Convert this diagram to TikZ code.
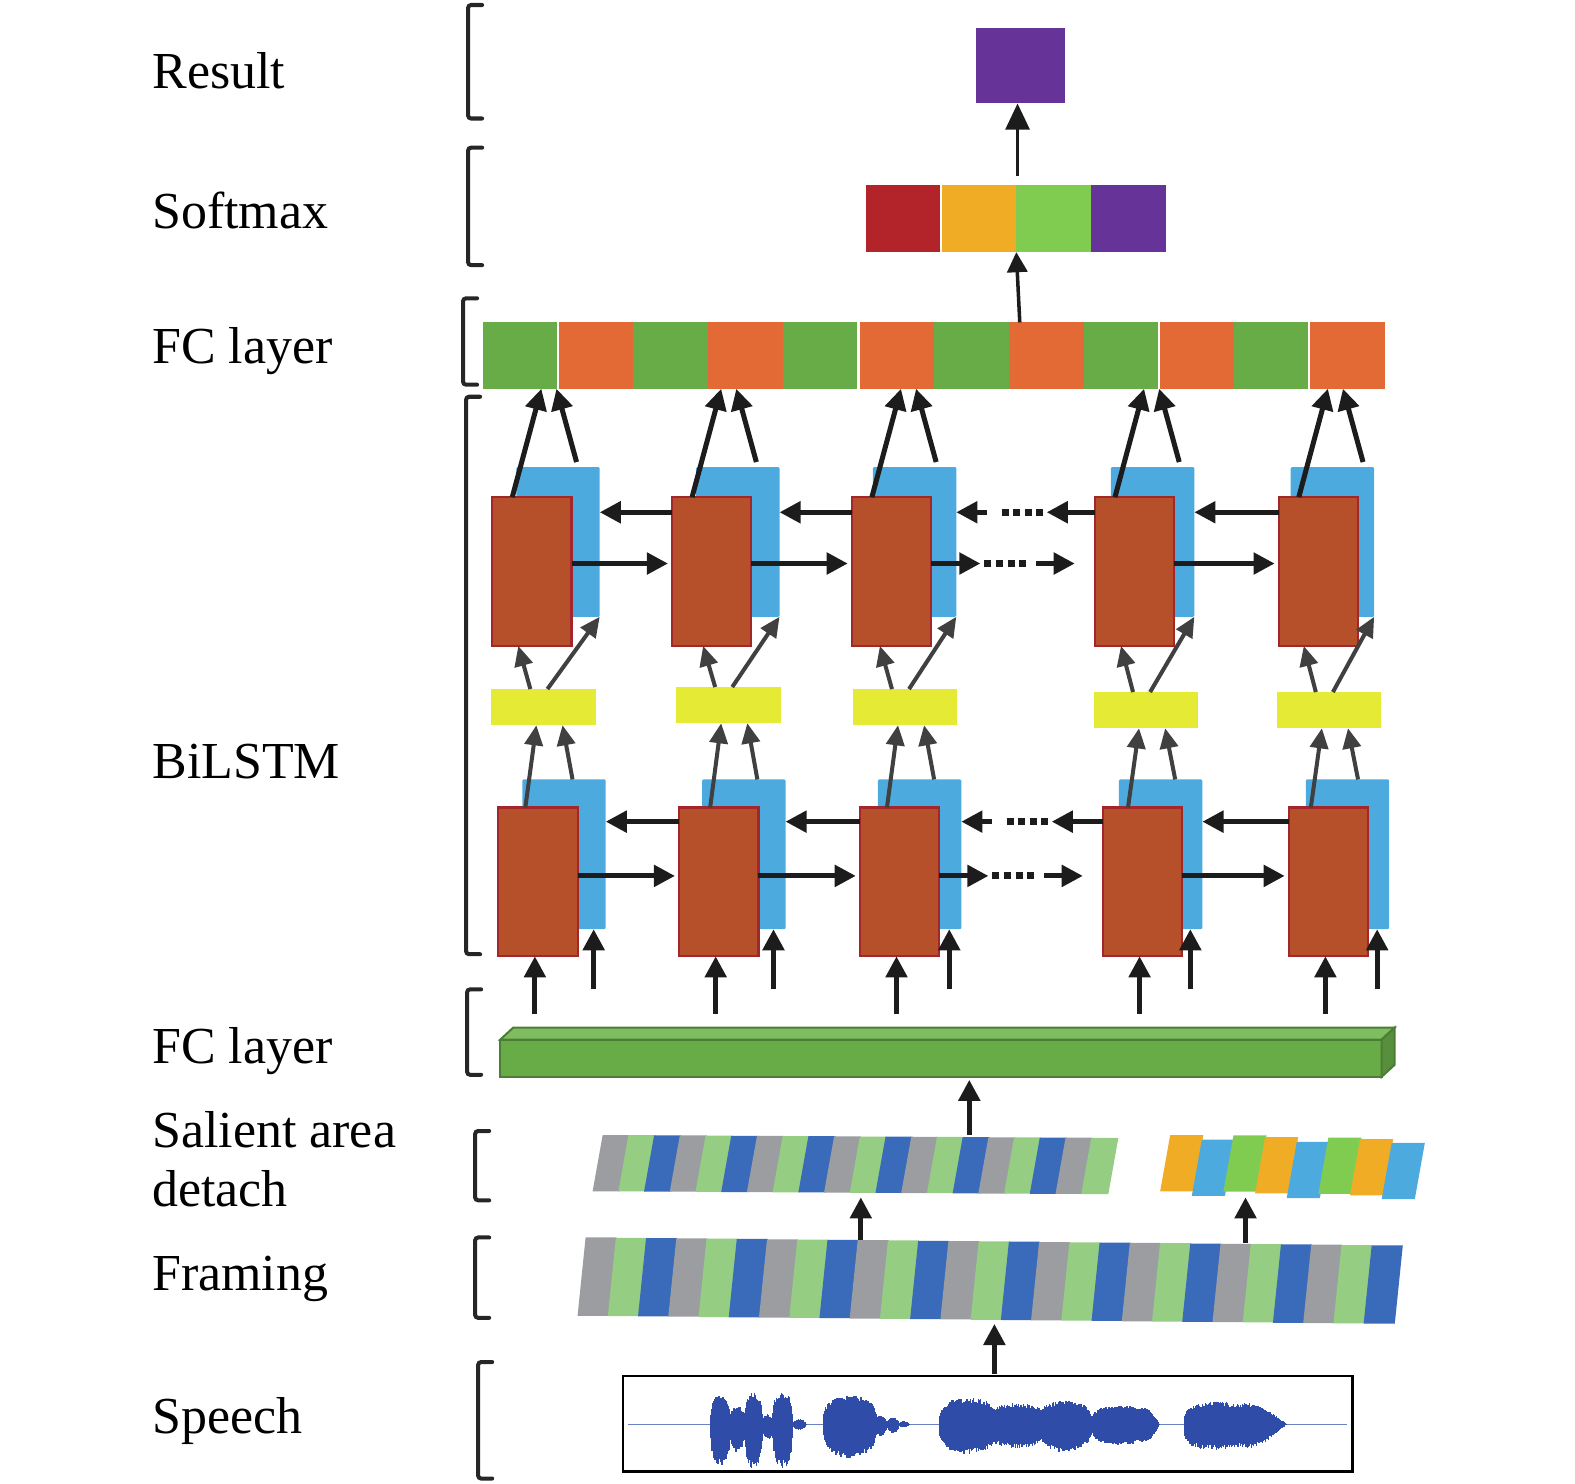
\documentclass[tikz,border=0pt]{standalone}
\usepackage{fontspec}
\setmainfont{Liberation Serif}
\usetikzlibrary{arrows.meta,calc}

\definecolor{lstmred}{HTML}{B5502A}
\definecolor{lstmedge}{HTML}{A3262A}
\definecolor{lstmblue}{HTML}{4DAADF}
\definecolor{gatey}{HTML}{E5EB35}
\definecolor{fcg}{HTML}{68AC48}
\definecolor{fco}{HTML}{E36A35}
\definecolor{barfront}{HTML}{68AC48}
\definecolor{bartop}{HTML}{7FBE60}
\definecolor{barside}{HTML}{578F3C}
\definecolor{barline}{HTML}{4C7D33}
\definecolor{smred}{HTML}{B2232A}
\definecolor{smorange}{HTML}{F0AC25}
\definecolor{smgreen}{HTML}{7FCC50}
\definecolor{smpurple}{HTML}{663399}
\definecolor{stgray}{HTML}{9B9DA1}
\definecolor{stgreen}{HTML}{95CD82}
\definecolor{stblue}{HTML}{396BBA}
\definecolor{sorange}{HTML}{F0AC25}
\definecolor{sblue}{HTML}{4DAADF}
\definecolor{sgreen}{HTML}{7FCC50}
\definecolor{wavec}{HTML}{2F4DA8}
\definecolor{arrowk}{HTML}{1C1C1C}
\definecolor{arrowg}{HTML}{404040}

\begin{document}
\begin{tikzpicture}[x=0.01cm, y=-0.01cm,
    cell/.style={rectangle, inner sep=0pt, outer sep=0pt, anchor=north west},
    redbox/.style={cell, fill=lstmred, draw=lstmedge, line width=0.022cm, minimum width=0.79cm, minimum height=1.48cm},
    bluebox/.style={cell, fill=lstmblue, rounded corners=0.012cm, minimum width=0.83cm, minimum height=1.49cm},
    gatebox/.style={cell, fill=gatey, minimum width=1.04cm, minimum height=0.36cm},
    fccell/.style={cell, minimum width=0.76cm, minimum height=0.66cm},
    smcell/.style={cell, minimum width=0.75cm, minimum height=0.67cm},
    lname/.style={anchor=base west, inner sep=0pt, font=\fontsize{14.7}{16.7}\selectfont},
    brk/.style={line width=0.04cm, line cap=round, rounded corners=0.03cm, draw=black!85},
    arr/.style={-{Triangle[length=0.21cm, width=0.21cm]}, line width=0.05cm, draw=arrowk},
    garr/.style={-{Triangle[length=0.2cm, width=0.18cm]}, line width=0.04cm, draw=arrowg},
    tarr/.style={-{Triangle[length=0.26cm, width=0.24cm]}, line width=0.025cm, draw=arrowk},
    marr/.style={-{Triangle[length=0.2cm, width=0.2cm]}, line width=0.035cm, draw=arrowk},
    dotline/.style={line width=0.07cm, draw=arrowk, dash pattern=on 0.07cm off 0.045cm},
    wave/.style={line width=0.016cm, draw=wavec}
]
\useasboundingbox (0,0) rectangle (1568,1477);

% Labels
\node[lname] (lres) at (151,88) {Result};
\node[lname] (lsoft) at (151,228) {Softmax};
\node[lname] (lfc1) at (151,362) {FC layer};
\node[lname] (lbi) at (151,775) {BiLSTM};
\node[lname] (lfc2) at (151,1059) {FC layer};
\node[lname] (lsal1) at (151,1142) {Salient area};
\node[lname] (lsal2) at (151,1201) {detach};
\node[lname] (lfra) at (151,1285) {Framing};
\node[lname] (lspe) at (151,1427) {Speech};

% Brackets
\foreach \bx/\bt/\bb in {466/5/118, 466/147/264, 461/297/383, 464/395/950, 465/985/1070, 473/1126/1195, 473/1232/1312, 476/1356/1472}
  \draw[brk] (\bx+14,\bt) -- (\bx,\bt) -- (\bx,\bb) -- (\bx+14,\bb);

% Result
\node[cell, fill=smpurple, minimum width=0.88cm, minimum height=0.75cm] (res) at (972,28) {};

% Softmax
\foreach \c [count=\k] in {smred,smorange,smgreen,smpurple}
  \node[smcell, fill=\c] (sm\k) at ({862+(\k-1)*74.75},184) {};
\draw[white, line width=0.02cm] (sm2.north west) -- (sm2.south west);

% FC layer (top)
\foreach \c [count=\k] in {fcg,fco,fcg,fco,fcg,fco,fcg,fco,fcg,fco,fcg,fco}
  \node[fccell, fill=\c] (fc\k) at ({481+(\k-1)*74.75},321) {};
\foreach \k in {2,6,10,12}
  \draw[white, line width=0.025cm] (fc\k.north west) -- (fc\k.south west);

\draw[marr] ($(fc8.north west)+(11,0)$) -- (sm2.south east);
\draw[tarr] ($(res.south |- sm1.north)+(-3,-9)$) -- ($(res.south)+(-3,0)$);

% BiLSTM, upper layer and gates
\foreach \i/\xr/\xb/\xg/\yg in {1/490/514/489/686, 2/669/693/673/684, 3/848/869/849/686, 4/1090/1106/1089/689, 5/1273/1285/1271/689} {
  \node[bluebox] (bu\i) at (\xb,465) {};
  \node[redbox] (ru\i) at (\xr,495) {};
  \node[gatebox] (g\i) at (\xg,\yg) {};
}

% BiLSTM, lower layer
\foreach \i/\xr/\xb in {1/496/520, 2/676/699, 3/856/874, 4/1098/1114, 5/1283/1300} {
  \node[bluebox] (bl\i) at (\xb,776) {};
  \node[redbox] (rl\i) at (\xr,804) {};
}

% FC layer (bottom)
\node[cell, fill=barfront, draw=barline, line width=0.02cm, minimum width=8.77cm, minimum height=0.37cm] (fcb) at (498,1035) {};
\filldraw[fill=bartop, draw=barline, line width=0.02cm] (fcb.north west) -- ($(fcb.north west)+(13,-12)$) -- ($(fcb.north east)+(13,-12)$) -- (fcb.north east) -- cycle;
\filldraw[fill=barside, draw=barline, line width=0.02cm] (fcb.north east) -- ($(fcb.north east)+(13,-12)$) -- ($(fcb.south east)+(13,-12)$) -- (fcb.south east) -- cycle;

% Vertical arrows of each column
\foreach \i in {1,...,5} {
  \draw[arr] ($(ru\i.north west)+(20,0)$) -- ($(ru\i.north west |- fc1.south)+(49,0)$);
  \draw[arr] ($(ru\i.north west)+(84,-35)$) -- ($(ru\i.north west |- fc1.south)+(64,0)$);
  \draw[garr] ($(g\i.north west)+(39,0)$) -- ($(g\i.north west |- ru\i.south)+(27,0)$);
  \draw[garr] ($(g\i.north west)+(56,0)$) -- (bu\i.south east);
  \draw[garr] ($(g\i.south west |- rl\i.north)+(34,0)$) -- ($(g\i.south west)+(45,0)$);
  \draw[garr] ($(g\i.south west |- bl\i.north)+(81,0)$) -- ($(g\i.south west)+(71,0)$);
  \draw[arr] ($(rl\i.south)+(-3,57)$) -- ($(rl\i.south)+(-3,0)$);
  \draw[arr] ($(bl\i.south east)+(-12,60)$) -- ($(bl\i.south east)+(-12,0)$);
}

% Horizontal arrows
\foreach \i/\j in {1/2, 2/3, 4/5} {
  \draw[arr] ([yshift=-0.15cm]ru\j.north west) coordinate (s) -- (bu\i.east |- s);
  \draw[arr] ([yshift=-0.66cm]ru\i.north east) coordinate (s) -- ($(ru\j.west |- s)+(-4,0)$);
  \draw[arr] ([yshift=-0.14cm]rl\j.north west) coordinate (s) -- (bl\i.east |- s);
  \draw[arr] ([yshift=-0.68cm]rl\i.north east) coordinate (s) -- ($(rl\j.west |- s)+(-4,0)$);
}

% Dotted gap, upper layer
\draw[arr] ([yshift=-0.15cm]ru4.north west) coordinate (s) -- ($(bu3.east |- s)+(90,0)$);
\draw[dotline] ($(bu3.east |- s)+(45,0)$) -- ($(bu3.east |- s)+(86,0)$);
\draw[arr] ($(bu3.east |- s)+(31,0)$) -- (bu3.east |- s);
\draw[arr] ([yshift=-0.66cm]ru3.north east) coordinate (s) -- ($(s)+(49,0)$);
\draw[dotline] ($(s)+(53,0)$) -- ($(s)+(94,0)$);
\draw[arr] ($(s)+(104,0)$) -- ($(ru4.west |- s)+(-20,0)$);

% Dotted gap, lower layer
\draw[arr] ([yshift=-0.14cm]rl4.north west) coordinate (s) -- ($(bl3.east |- s)+(90,0)$);
\draw[dotline] ($(bl3.east |- s)+(45,0)$) -- ($(bl3.east |- s)+(86,0)$);
\draw[arr] ($(bl3.east |- s)+(31,0)$) -- (bl3.east |- s);
\draw[arr] ([yshift=-0.68cm]rl3.north east) coordinate (s) -- ($(s)+(49,0)$);
\draw[dotline] ($(s)+(53,0)$) -- ($(s)+(94,0)$);
\draw[arr] ($(s)+(104,0)$) -- ($(rl4.west |- s)+(-20,0)$);

% Salient area detach
\node[cell, minimum width=5.22cm, minimum height=0.58cm] (sal1) at (590,1130) {};
\foreach \g in {0,...,6}
  \foreach \c [count=\m from 0] in {stgray,stgreen,stblue} {
    \pgfmathtruncatemacro\k{3*\g+\m}
    \ifnum\k<20
      \fill[\c] ({590+\k*25.6+10},{1130+\k*0.15}) -- ++(27,0) -- ++(-10,56) -- ++(-27,0) -- cycle;
    \fi
  }
\node[cell, minimum width=2.62cm, minimum height=0.62cm] (sal2) at (1155,1130) {};
\foreach \c/\dy [count=\k from 0] in {sorange/0, sblue/4, sgreen/-1, sorange/0, sblue/4, sgreen/-1, sorange/0, sblue/3}
  \fill[\c] ({1155+\k*31.5+10},{1130+\k*0.7+\dy}) -- ++(33,0) -- ++(-10,56) -- ++(-33,0) -- cycle;

% Framing
\node[cell, minimum width=8.23cm, minimum height=0.86cm] (fra) at (575,1232) {};
\foreach \g in {0,...,8}
  \foreach \c [count=\m from 0] in {stgray,stgreen,stblue} {
    \pgfmathtruncatemacro\k{3*\g+\m}
    \fill[\c] ({575+\k*30.1+8},{1232+\k*0.3}) -- ++(31,0) -- ++(-8,78) -- ++(-31,0) -- cycle;
  }

% Speech
\node[cell, draw=black, line width=0.025cm, minimum width=7.26cm, minimum height=0.95cm] (sp) at (620,1370) {};
\draw[wavec!70, line width=0.012cm] ($(sp.west)+(5,1)$) -- ($(sp.east)+(-5,1)$);
\pgfmathsetseed{42}
\foreach \wa/\wb/\wu/\wd/\wp in {708/727/30/42/0.25, 727/741/18/28/0.25, 741/759/32/44/0.25, 759/769/10/16/0.25, 769/789/33/44/0.25, 789/803/5/6/0.5, 820/872/29/34/0.25, 871/883/9/12/0.5, 883/895/7/9/0.5, 895/905/3/3/0.5, 936/992/27/30/0.25, 982/1044/21/24/0.25, 1034/1086/24/28/0.25, 1088/1140/19/21/0.2, 1120/1154/17/19/0.8, 1180/1238/23/26/0.2, 1200/1280/21/24/0.9} {
  \foreach \x in {\wa,...,\wb} {
    \pgfmathsetmacro\e{pow(max(abs(sin(180/(\wb-\wa)*(\x-\wa))),0.02),\wp)}
    \pgfmathsetmacro\ua{\wu*\e*(0.8+0.2*rnd)}
    \pgfmathsetmacro\da{\wd*\e*(0.8+0.2*rnd)}
    \draw[wave] (\x,1418-\ua) -- (\x,1418+\da);
  }
}

% Arrows between the lower stages
\draw[arr] ($(sp.north west)+(370,-2)$) -- ($(sp.north west |- fra.south)+(370,0)$);
\draw[arr] ($(fra.north west)+(282,3)$) -- ($(fra.north west |- sal1.south)+(282,4)$);
\draw[arr] ($(fra.north west)+(665,5)$) -- ($(fra.north west |- sal2.south)+(665,0)$);
\draw[arr] ($(sal1.north west)+(375,0)$) -- ($(sal1.north west |- fcb.south)+(375,3)$);

\end{tikzpicture}
\end{document}
